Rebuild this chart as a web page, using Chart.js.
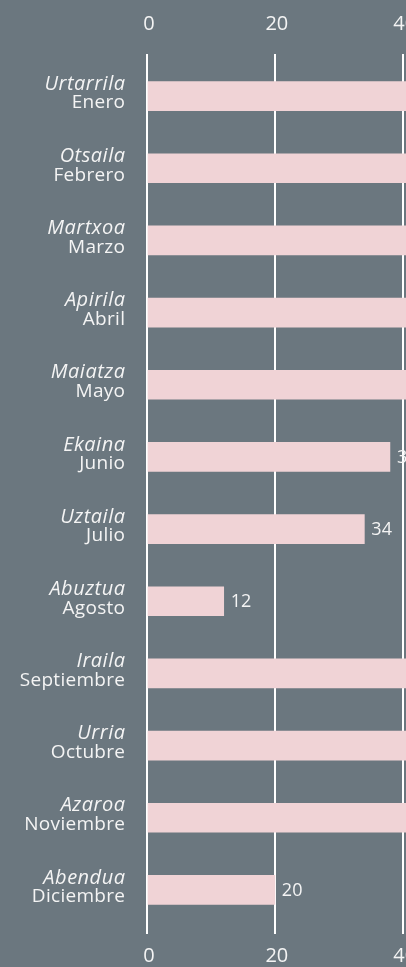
<!DOCTYPE html>
<html>
<head>
<meta charset="utf-8">
<script src="https://cdn.jsdelivr.net/npm/chart.js@4/dist/chart.umd.min.js"></script>
<style>
  html, body { margin: 0; padding: 0; background: #6b777f; overflow: hidden; }
  #wrap { width: 406px; height: 967px; overflow: hidden; position: relative; }
  canvas { display: block; }
</style>
</head>
<body>
<div id="wrap"><canvas id="c" width="560" height="967"></canvas></div>
<script>
// Month names: Basque (italic, upper line) and Spanish (regular, lower line)
const monthsEu = ['Urtarrila', 'Otsaila', 'Martxoa', 'Apirila', 'Maiatza', 'Ekaina',
  'Uztaila', 'Abuztua', 'Iraila', 'Urria', 'Azaroa', 'Abendua'];
const monthsEs = ['Enero', 'Febrero', 'Marzo', 'Abril', 'Mayo', 'Junio',
  'Julio', 'Agosto', 'Septiembre', 'Octubre', 'Noviembre', 'Diciembre'];
const values = [46, 44, 48, 45, 47, 38, 34, 12, 43, 46, 42, 20];
const axisTicks = [0, 20, 40, 60];

const BG = '#6b777f';
const BAR = '#f0d3d6';
const TEXT = '#f4f4f4';
const FONT = '"Open Sans", "Noto Sans", sans-serif';

const monthLabels = {
  id: 'monthLabels',
  afterDraw(chart) {
    const ctx = chart.ctx;
    const y = chart.scales.y;
    ctx.save();
    ctx.fillStyle = TEXT;
    ctx.textAlign = 'right';
    ctx.textBaseline = 'middle';
    monthsEu.forEach((eu, i) => {
      const py = y.getPixelForValue(i);
      ctx.font = 'italic 20px ' + FONT;
      ctx.letterSpacing = '0.5px';
      ctx.fillText(eu, 125.5, py - 12);
      ctx.font = '19px ' + FONT;
      ctx.letterSpacing = '0.3px';
      ctx.fillText(monthsEs[i], 125.3, py + 7);
    });
    ctx.restore();
  }
};

const valueLabels = {
  id: 'valueLabels',
  afterDatasetsDraw(chart) {
    const ctx = chart.ctx;
    const meta = chart.getDatasetMeta(0);
    ctx.save();
    ctx.fillStyle = TEXT;
    ctx.font = '18px ' + FONT;
    ctx.textAlign = 'left';
    ctx.textBaseline = 'middle';
    meta.data.forEach((bar, i) => {
      ctx.fillText(String(values[i]), bar.x + 7, bar.y + 1);
    });
    ctx.restore();
  }
};

const bgPlugin = {
  id: 'bg',
  beforeDraw(chart) {
    const ctx = chart.ctx;
    ctx.save();
    ctx.fillStyle = BG;
    ctx.fillRect(0, 0, chart.width, chart.height);
    ctx.restore();
  }
};

new Chart(document.getElementById('c'), {
  type: 'bar',
  data: {
    labels: monthsEs,
    datasets: [{
      data: values,
      backgroundColor: BAR,
      borderWidth: 0,
      barThickness: 29,
      xAxisID: 'x',
      yAxisID: 'y'
    }]
  },
  options: {
    indexAxis: 'y',
    responsive: false,
    animation: false,
    events: [],
    layout: { padding: { left: 147, right: 0, top: 0, bottom: 0 } },
    plugins: { legend: { display: false }, tooltip: { enabled: false } },
    scales: {
      y: { display: false, type: 'category' },
      x: {
        position: 'top',
        min: 0, max: axisTicks[axisTicks.length - 1],
        afterBuildTicks(s) { s.ticks = axisTicks.map(v => ({ value: v })); },
        afterFit(s) { s.height = 60; },
        border: { display: false },
        grid: { color: '#ffffff', lineWidth: 2, tickLength: 6, drawTicks: true },
        ticks: { color: TEXT, font: { size: 20, family: FONT }, padding: 18, labelOffset: 2 }
      },
      x2: {
        position: 'bottom',
        min: 0, max: axisTicks[axisTicks.length - 1],
        afterBuildTicks(s) { s.ticks = axisTicks.map(v => ({ value: v })); },
        afterFit(s) { s.height = 41; },
        border: { display: false },
        grid: { color: '#ffffff', lineWidth: 2, tickLength: 8, drawOnChartArea: false, drawTicks: true },
        ticks: { color: TEXT, font: { size: 20, family: FONT }, padding: 10, labelOffset: 2 }
      }
    }
  },
  plugins: [bgPlugin, valueLabels, monthLabels]
});
</script>
</body>
</html>
